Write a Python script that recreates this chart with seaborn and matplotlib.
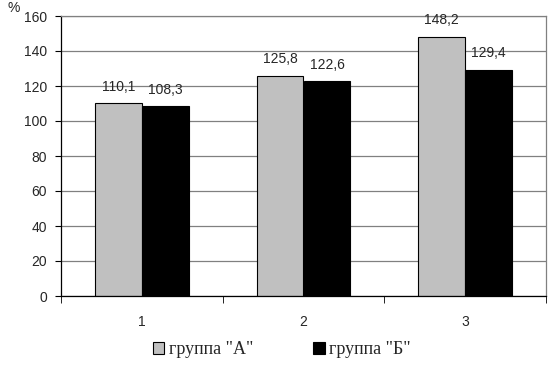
import numpy as np
import pandas as pd
import matplotlib.pyplot as plt
import seaborn as sns

categories = ["1", "2", "3"]
groups = ['группа "А"', 'группа "Б"']
values_a = [110.1, 125.8, 148.2]
values_b = [108.3, 122.6, 129.4]
yticks = [0, 20, 40, 60, 80, 100, 120, 140, 160]

df = pd.DataFrame({
    "cat": categories * 2,
    "group": [groups[0]] * 3 + [groups[1]] * 3,
    "value": values_a + values_b,
})

sns.set_style("white")
plt.rcParams["font.family"] = ["Liberation Sans", "DejaVu Sans"]

fig = plt.figure(figsize=(5.5, 3.8), dpi=100)
ax = fig.add_axes([61 / 550, 84 / 380, 485 / 550, 280 / 380])

sns.barplot(data=df, x="cat", y="value", hue="group",
            palette=["#c0c0c0", "#000000"], width=0.58,
            edgecolor="black", linewidth=0.8, ax=ax, legend=True)

# подписи значений
for cont in ax.containers:
    labels = [f"{v:.1f}".replace(".", ",") for v in cont.datavalues]
    ax.bar_label(cont, labels=labels, padding=7, fontsize=10)

ax.set_ylim(0, 160)
ax.set_yticks(yticks)
ax.set_xlim(-0.5, 2.5)
ax.yaxis.grid(True, color="#808080", linewidth=0.9)
ax.set_axisbelow(True)
ax.set_xlabel("")
ax.set_ylabel("")

for side in ["top", "right"]:
    ax.spines[side].set_color("#808080")
    ax.spines[side].set_linewidth(0.9)
for side in ["left", "bottom"]:
    ax.spines[side].set_color("black")
    ax.spines[side].set_linewidth(0.9)

# тики по границам категорий
ax.set_xticks([0, 1, 2])
ax.set_xticklabels(categories)
ax.tick_params(axis="x", length=0, pad=14, labelsize=10)
ax.set_xticks([-0.5, 0.5, 1.5, 2.5], minor=True)
ax.tick_params(axis="x", which="minor", length=5, direction="out", color="black", bottom=True)
ax.tick_params(axis="y", length=4, direction="out", color="black", left=True, labelsize=10, pad=6)

fig.text(8 / 550, 1 - 8 / 380, "%", fontsize=10, ha="left", va="center")

ax.legend(loc="center", bbox_to_anchor=(0.455, -0.192), ncol=2, frameon=False,
          handlelength=0.65, handleheight=0.65, handletextpad=0.25, columnspacing=3.3,
          prop={"family": "Liberation Serif", "size": 13})

plt.savefig("out.png", dpi=100)
plt.close()
